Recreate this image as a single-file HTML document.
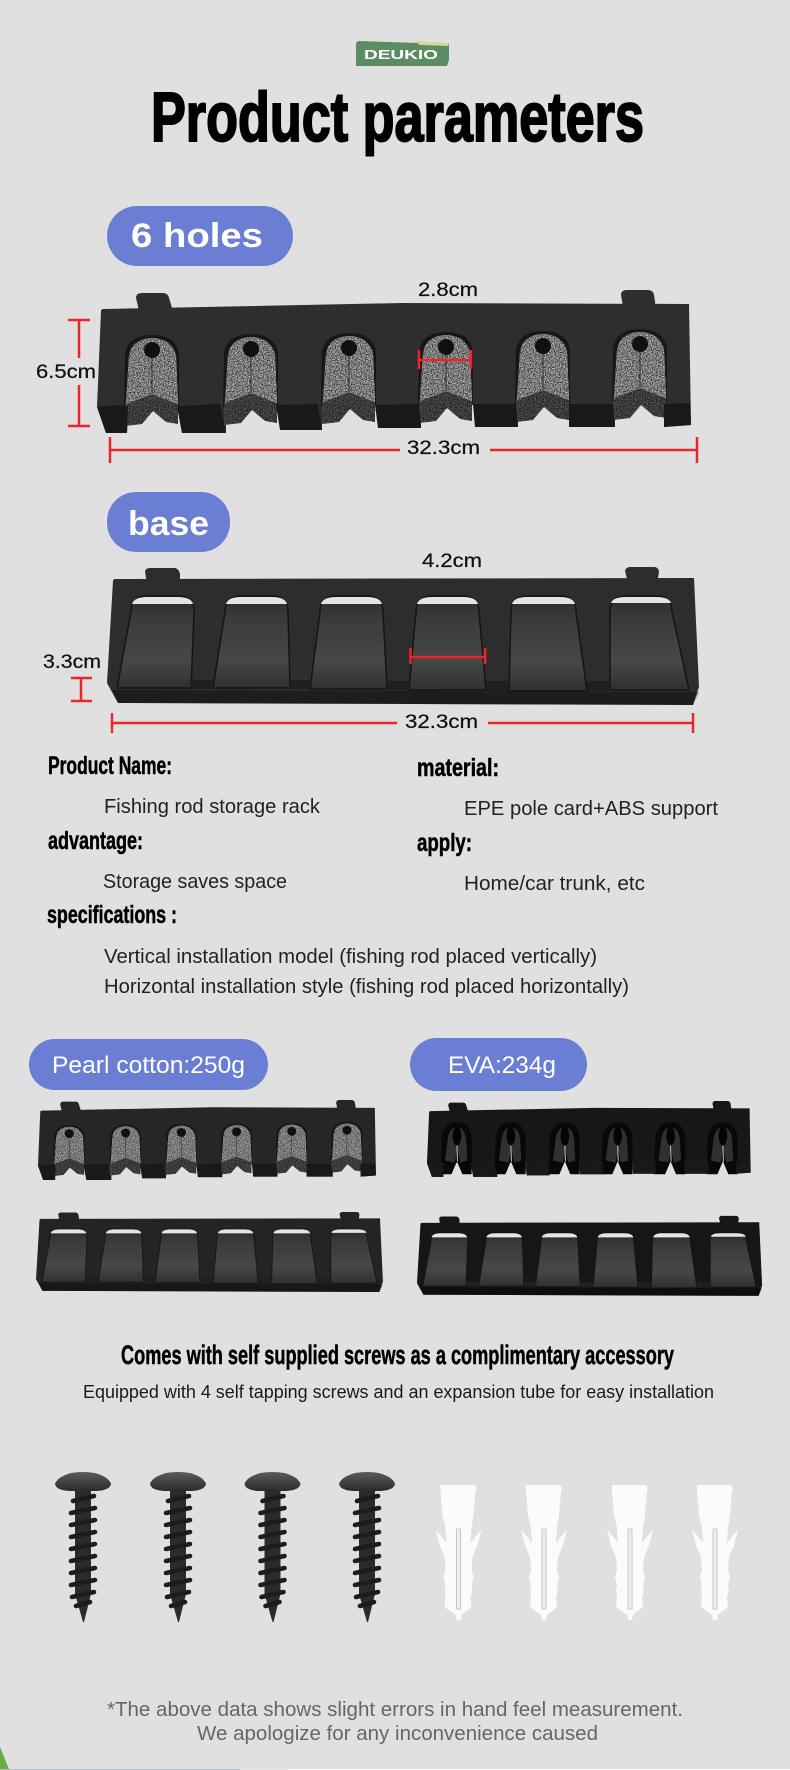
<!DOCTYPE html>
<html lang="en">
<head>
<meta charset="utf-8">
<title>Product parameters</title>
<style>
html,body{margin:0;padding:0;background:#e0e0e0;width:790px;height:1770px;overflow:hidden}
svg{display:block}
text{font-family:"Liberation Sans",sans-serif}
.h{font-weight:700;fill:#000;stroke:#000;stroke-width:.5}
.b{fill:#222;font-size:20px}
.d{fill:#111;font-size:19px;stroke:#111;stroke-width:.25}
.w{fill:#fff}
.r{stroke:#e8262c;stroke-width:2.5;fill:none}
</style>
</head>
<body>
<svg xmlns="http://www.w3.org/2000/svg" width="790" height="1770" viewBox="0 0 790 1770">
<defs>
<filter id="noise" x="0" y="0" width="1" height="1" color-interpolation-filters="sRGB">
<feTurbulence type="fractalNoise" baseFrequency=".8" numOctaves="2" seed="4" result="n"/>
<feColorMatrix in="n" type="matrix" values="1.5 0 0 0 -.2 1.5 0 0 0 -.2 1.5 0 0 0 -.2 0 0 0 0 1" result="c"/>
<feComposite in="c" in2="SourceAlpha" operator="in" result="m"/>
<feBlend in="m" in2="SourceGraphic" mode="multiply"/>
</filter>
<linearGradient id="slotfill" x1="0" y1="0" x2="0" y2="1">
<stop offset="0" stop-color="#2b2b2b"/><stop offset=".25" stop-color="#3b3b3b"/><stop offset=".7" stop-color="#474747"/><stop offset="1" stop-color="#303030"/>
</linearGradient>
<linearGradient id="head" x1="0" y1="0" x2="0" y2="1">
<stop offset="0" stop-color="#5c5c5c"/><stop offset="1" stop-color="#2a2a2a"/>
</linearGradient>

<g id="rackbody">
<path d="M136,298 Q136,293 142,293 L163,293 Q168,293 169,298 L173,311 L140,315 Z"/>
<path d="M621,295 Q621,290 627,290 L648,290 Q653,290 654,295 L656,309 L624,312 Z"/>
<path d="M101,311 Q101,309 104,309 L403,303 L689,304 L691,425 L664,427 L664,404 L615,404 L615,427 L569,427 L569,405 L518,405 L518,427 L475,427 L475,405 L421,405 L421,428 L378,428 L378,405 L322,405 L322,430 L280,430 L280,405 L226,406 L226,433 L182,433 L177,406 L128,406 L127,433 L106,433 L97,407 Z"/>
</g>
<path id="rackblocks" d="M97,407 L117,405 L128,406 L127,433 L106,433 Z M177,406 L220,404 L226,433 L182,433 Z M276,405 L318,404 L322,430 L280,430 Z M375,405 L419,404 L421,428 L378,428 Z M473,404 L516,404 L518,427 L475,427 Z M569,404 L613,404 L615,427 L569,427 Z M664,404 L690,403 L691,425 L664,427 Z" fill="#19191a"/>

<g id="foam">
<path d="M-28,58 L-27,4 Q-24,-15 0,-15 Q24,-15 27,4 L27,58 Z" fill="#171717"/>
<path d="M-27,54 L0,44 L26,53 L26,74 L14,72 L1,61 L-10,74 L-27,76 Z" fill="#6a6a6a" filter="url(#noise)"/>
<path d="M-26,54 L-23,6 Q-20,-11 0,-12 Q20,-11 24,6 L26,54 L0,44 Z" fill="#dcdcdc" filter="url(#noise)"/>
<path d="M0,6 L0,44" stroke="#333" stroke-width="1" fill="none"/>
<circle r="8" fill="#101010"/>
</g>
<g id="foamset">
<use href="#foam" transform="translate(152,350)"/>
<use href="#foam" transform="translate(251,349)"/>
<use href="#foam" transform="translate(349,348)"/>
<use href="#foam" transform="translate(446,347)"/>
<use href="#foam" transform="translate(543,346)"/>
<use href="#foam" transform="translate(640,344)"/>
</g>

<g id="eva">
<path d="M-30,72 L-28,4 Q-24,-26 0,-26 Q24,-26 27,4 L27,72 L10,72 L1,50 L0,30 L-1,50 L-10,72 Z" fill="#080808"/>
<path d="M-22,46 L-17,6 Q-14,-16 0,-16 Q14,-16 17,6 L19,46 L6,50 L1,24 L-4,50 Z" fill="#332f2f"/>
<ellipse cx="0" cy="0" rx="8" ry="18" fill="#040404"/>
<path d="M0,18 L1,48" stroke="#ddd" stroke-width="1.6"/>
</g>
<g id="evaset">
<use href="#eva" transform="translate(152,356)"/>
<use href="#eva" transform="translate(251,356)"/>
<use href="#eva" transform="translate(350,356)"/>
<use href="#eva" transform="translate(447,356)"/>
<use href="#eva" transform="translate(544,356)"/>
<use href="#eva" transform="translate(640,356)"/>
</g>

<g id="basebody">
<path d="M145,571 Q146,568 150,568 L175,568 Q179,569 180,574 L180,585 L147,585 Z"/>
<path d="M625,571 Q626,567 630,567 L655,567 Q659,568 659,572 L657,583 L628,583 Z"/>
<path d="M113,581 Q113,579 116,579 L694,578 L699,687 L693,705 L118,703 L107,683 Z"/>
</g>
<g id="baseslots">
<path d="M112,690 L699,692 L693,705 L118,703 Z" fill="#000" opacity=".35"/>
<g fill="url(#slotfill)" stroke="#141414" stroke-width="1.5">
<path d="M117,688 L131,612 Q131,596 147,596 L178,596 Q194,596 194,612 L191,688 Z"/>
<path d="M213,688 L225,612 Q225,596 241,596 L272,596 Q288,596 288,612 L290,688 Z"/>
<path d="M310,689 L320,612 Q320,596 336,596 L367,596 Q383,596 383,612 L387,689 Z"/>
<path d="M409,690 L416,612 Q416,596 432,596 L463,596 Q479,596 479,612 L486,690 Z"/>
<path d="M509,691 L511,612 Q511,596 527,596 L560,596 Q576,596 576,612 L587,691 Z"/>
<path d="M610,690 L610,612 Q610,596 626,596 L656,596 Q672,596 672,612 L689,690 Z"/>
</g>
<g fill="#e4e4e4">
<path d="M132,604 Q134,597 147,597 L178,597 Q191,597 193,604 Z"/>
<path d="M226,604 Q228,597 241,597 L272,597 Q285,597 287,604 Z"/>
<path d="M321,604 Q323,597 336,597 L367,597 Q380,597 382,604 Z"/>
<path d="M417,604 Q419,597 432,597 L463,597 Q476,597 478,604 Z"/>
<path d="M512,604 Q514,597 527,597 L560,597 Q573,597 575,604 Z"/>
<path d="M611,603 Q613,597 626,597 L656,597 Q669,597 671,603 Z"/>
</g>
<g fill="#1f1f20">
<rect x="191" y="680" width="22" height="9"/><rect x="290" y="680" width="20" height="9"/>
<rect x="387" y="681" width="22" height="9"/><rect x="486" y="681" width="23" height="10"/>
<rect x="587" y="681" width="23" height="10"/>
</g>
</g>

<g id="screw">
<path d="M-8,16 L8,16 L8,122 L1,150 L0,150 L-8,122 Z" fill="#2b2b2b"/>
<g stroke="#1c1c1c" stroke-width="4.600" stroke-linecap="round" fill="none">
<path d="M-10,29 L11,24"/><path d="M-12,41 L12,36"/><path d="M-12,53 L12,48"/>
<path d="M-12,65 L12,60"/><path d="M-12,77 L12,72"/><path d="M-12,89 L12,84"/>
<path d="M-12,101 L12,96"/><path d="M-12,113 L12,108"/><path d="M-11,125 L11,120"/>
<path d="M-7,134 L7,130"/>
</g>
<path d="M-28,12 Q-26,5 -12,1 Q0,-1 12,1 Q26,5 28,12 Q27,18 14,19 L-14,19 Q-27,18 -28,12 Z" fill="url(#head)"/>
</g>

<g id="plug">
<path d="M-18,0 L16,0 L18,3 L17,6 L15,30 L13,43 L12,58 L18,50 L23,45 L19,60 L14,72 L13,85 L15,92 L13,100 L14,106 L12,112 L13,122 L3,130 L2,135 L-2,135 L-3,130 L-14,122 L-13,112 L-14,106 L-13,100 L-15,92 L-13,85 L-14,72 L-19,60 L-23,45 L-18,50 L-12,58 L-13,43 L-16,30 L-18,6 Z" fill="#fbfbfb"/>
<rect x="-2" y="44" width="4" height="80" fill="#eee" stroke="#c8c8c8" stroke-width="1"/>
</g>
</defs>

<rect width="790" height="1770" fill="#e0e0e0"/>

<!-- logo -->
<path d="M356,43 L358,41 L449,44 L449,60 L447,66 L356,66 Z" fill="#5c8c62"/>
<path d="M414,41 L447,43 L449,46 L420,45 Z" fill="#d7d59a"/>
<text x="364" y="59" font-size="12.5" font-weight="700" class="w" textLength="74" lengthAdjust="spacingAndGlyphs">DEUKIO</text>

<text x="151" y="141" font-size="70" class="h" style="stroke-width:2" textLength="493" lengthAdjust="spacingAndGlyphs">Product parameters</text>

<!-- 6 holes -->
<rect x="107" y="206" width="186" height="60" rx="30" fill="#6a7fd3"/>
<text x="131" y="247" font-size="34" font-weight="700" class="w" textLength="132" lengthAdjust="spacingAndGlyphs">6 holes</text>

<use href="#rackbody" fill="#2e2e30"/>
<use href="#foamset"/>
<use href="#rackblocks"/>

<text x="418" y="296" class="d" textLength="60" lengthAdjust="spacingAndGlyphs">2.8cm</text>
<text x="36" y="378" class="d" textLength="60" lengthAdjust="spacingAndGlyphs">6.5cm</text>
<text x="407" y="454" class="d" textLength="73" lengthAdjust="spacingAndGlyphs">32.3cm</text>
<path class="r" d="M68,320 H90 M79,320 V358 M79,385 V426 M68,426 H90"/>
<path class="r" d="M110,437 V463 M110,450 H400 M490,450 H697 M697,437 V463"/>
<path class="r" d="M419,350 V369 M419,360 H471 M471,350 V369"/>

<!-- base -->
<rect x="107" y="492" width="123" height="60" rx="29" fill="#6a7fd3"/>
<text x="128" y="535" font-size="34" font-weight="700" class="w" textLength="81" lengthAdjust="spacingAndGlyphs">base</text>

<use href="#basebody" fill="#2d2d2f"/>
<use href="#baseslots"/>

<text x="422" y="567" class="d" textLength="60" lengthAdjust="spacingAndGlyphs">4.2cm</text>
<text x="43" y="668" class="d" textLength="58" lengthAdjust="spacingAndGlyphs">3.3cm</text>
<text x="405" y="728" class="d" textLength="73" lengthAdjust="spacingAndGlyphs">32.3cm</text>
<path class="r" d="M410.500,648 V664 M410.500,657 H485 M485,648 V664"/>
<path class="r" d="M71,678 H92 M81,678 V701 M71,701 H92"/>
<path class="r" d="M112,713 V733 M112,723 H397 M488,723 H693 M693,713 V733"/>

<!-- spec text -->
<text x="48" y="774" font-size="25" class="h" textLength="124" lengthAdjust="spacingAndGlyphs">Product Name:</text>
<text x="417" y="776" font-size="25" class="h" textLength="82" lengthAdjust="spacingAndGlyphs">material:</text>
<text x="104" y="813" class="b" textLength="216" lengthAdjust="spacingAndGlyphs">Fishing rod storage rack</text>
<text x="464" y="815" class="b" textLength="254" lengthAdjust="spacingAndGlyphs">EPE pole card+ABS support</text>
<text x="48" y="849" font-size="25" class="h" textLength="95" lengthAdjust="spacingAndGlyphs">advantage:</text>
<text x="417" y="851" font-size="25" class="h" textLength="55" lengthAdjust="spacingAndGlyphs">apply:</text>
<text x="103" y="888" class="b" textLength="184" lengthAdjust="spacingAndGlyphs">Storage saves space</text>
<text x="464" y="890" class="b" textLength="181" lengthAdjust="spacingAndGlyphs">Home/car trunk, etc</text>
<text x="47" y="923" font-size="25" class="h" textLength="130" lengthAdjust="spacingAndGlyphs">specifications :</text>
<text x="104" y="963" class="b" textLength="493" lengthAdjust="spacingAndGlyphs">Vertical installation model (fishing rod placed vertically)</text>
<text x="104" y="993" class="b" textLength="525" lengthAdjust="spacingAndGlyphs">Horizontal installation style (fishing rod placed horizontally)</text>

<!-- material pills -->
<rect x="29" y="1039" width="239" height="51" rx="25.500" fill="#6a7fd3"/>
<text x="52" y="1073" font-size="24" class="w" textLength="193" lengthAdjust="spacingAndGlyphs">Pearl cotton:250g</text>
<rect x="410" y="1038" width="177" height="53" rx="26.500" fill="#6a7fd3"/>
<text x="448" y="1073" font-size="24" class="w" textLength="108" lengthAdjust="spacingAndGlyphs">EVA:234g</text>

<g transform="translate(-17.200,937.900) scale(.569,.559)">
<use href="#rackbody" fill="#262628"/>
<use href="#foamset"/>
<use href="#rackblocks"/>
</g>
<g transform="translate(374.100,947) scale(.545,.531)">
<use href="#rackbody" fill="#171718"/>
<use href="#evaset"/>
<use href="#rackblocks" opacity=".9"/>
</g>
<g transform="translate(-26.700,883.100) scale(.586,.58)">
<use href="#basebody" fill="#242426"/>
<use href="#baseslots"/>
</g>
<g transform="translate(354.600,887) scale(.583,.58)">
<use href="#basebody" fill="#161617"/>
<use href="#baseslots"/>
</g>

<!-- accessories -->
<text x="121" y="1364" font-size="27" class="h" textLength="553" lengthAdjust="spacingAndGlyphs">Comes with self supplied screws as a complimentary accessory</text>
<text x="83" y="1398" font-size="18" fill="#1a1a1a" textLength="631" lengthAdjust="spacingAndGlyphs">Equipped with 4 self tapping screws and an expansion tube for easy installation</text>

<use href="#screw" transform="translate(83,1472)"/>
<use href="#screw" transform="translate(178,1472)"/>
<use href="#screw" transform="translate(272.500,1472)"/>
<use href="#screw" transform="translate(367,1472)"/>
<use href="#plug" transform="translate(458.500,1485)"/>
<use href="#plug" transform="translate(544,1485)"/>
<use href="#plug" transform="translate(630,1485)"/>
<use href="#plug" transform="translate(715,1485)"/>

<!-- footer -->
<text x="107" y="1716" font-size="20" fill="#666" textLength="576" lengthAdjust="spacingAndGlyphs">*The above data shows slight errors in hand feel measurement.</text>
<text x="197" y="1740" font-size="20" fill="#666" textLength="401" lengthAdjust="spacingAndGlyphs">We apologize for any inconvenience caused</text>

<path d="M0,1747 L9,1769 L0,1769 Z" fill="#69ad42"/>
<rect x="0" y="1769" width="240" height="1" fill="#aebfd0"/>
<rect x="240" y="1769" width="48" height="1" fill="#dfe6ec"/>
<rect x="288" y="1769" width="502" height="1" fill="#fff"/>
</svg>
</body>
</html>
